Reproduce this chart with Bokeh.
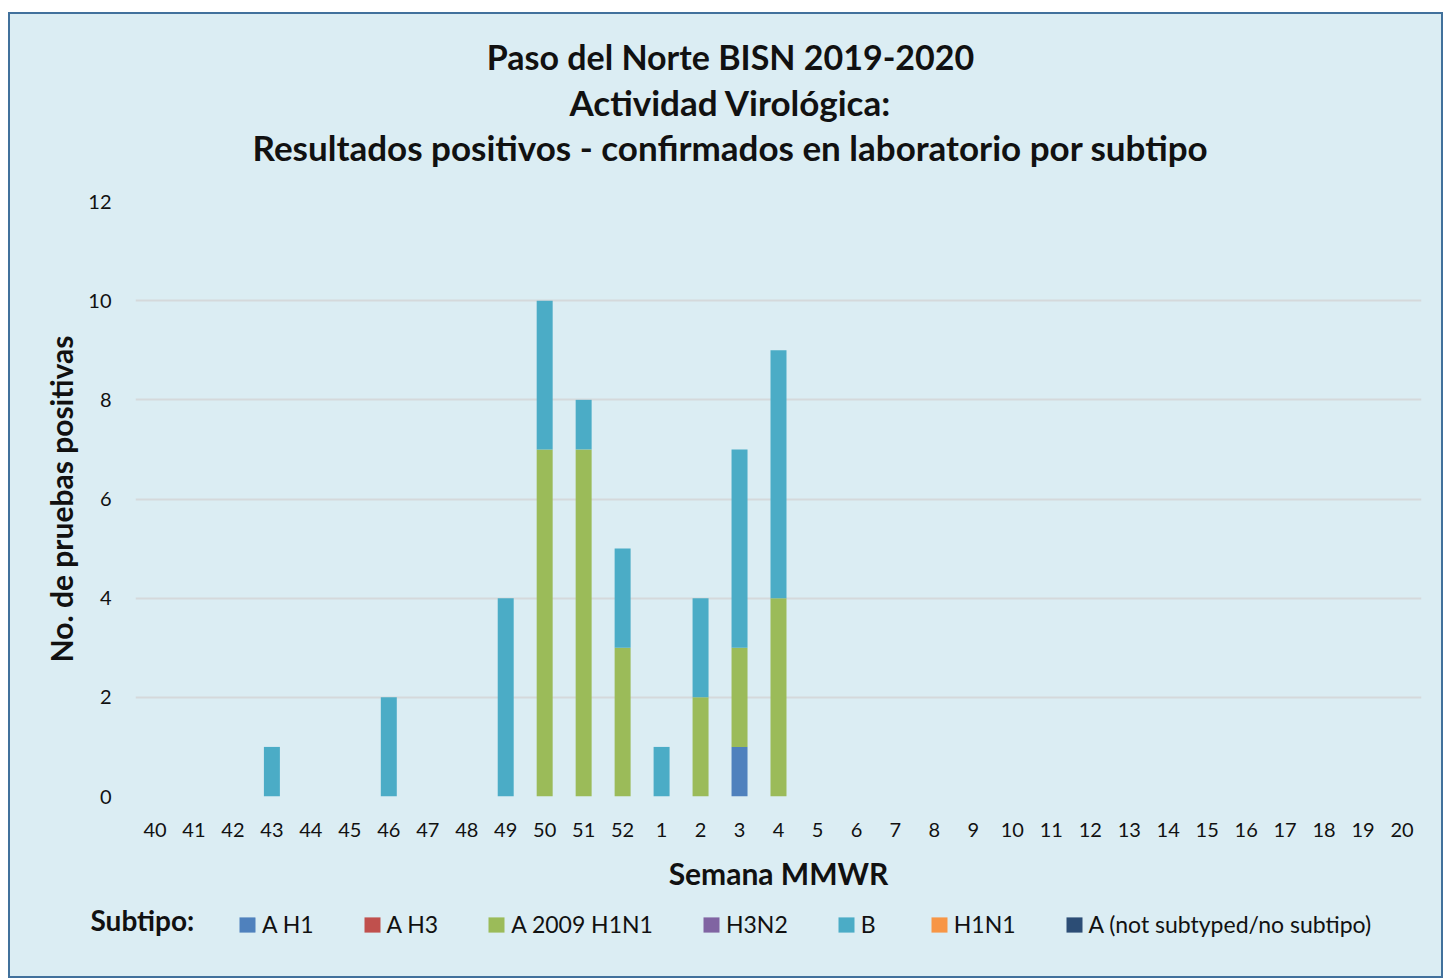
from bokeh.plotting import figure
from bokeh.layouts import column
from bokeh.models import Label, Legend, LegendItem, FactorRange, Range1d, SingleIntervalTicker, ColumnDataSource
from bokeh.embed import file_html
from bokeh.resources import INLINE

weeks = [str(w) for w in range(40, 53)] + [str(w) for w in range(1, 21)]
subtypes = ["A H1", "A H3", "A 2009 H1N1", "H3N2", "B", "H1N1", "A (not subtyped/no subtipo)"]
colors = ["#4F81BD", "#C0504D", "#9BBB59", "#8064A2", "#4BACC6", "#F79646", "#2C4D75"]

a_h1 =    [0,0,0,0,0,0,0,0,0,0,0,0,0, 0,0,1,0] + [0]*16
a_h3 =    [0]*33
a_2009 =  [0,0,0,0,0,0,0,0,0,0,7,7,3, 0,2,2,4] + [0]*16
h3n2 =    [0]*33
b =       [0,0,0,1,0,0,2,0,0,4,3,1,2, 1,2,4,5] + [0]*16
h1n1 =    [0]*33
a_ns =    [0]*33

titles = ["Paso del Norte BISN 2019-2020", "Actividad Virológica:",
          "Resultados positivos - confirmados en laboratorio por subtipo"]

series = [a_h1, a_h3, a_2009, h3n2, b, h1n1, a_ns]
data = {"week": weeks}
for name, vals in zip(subtypes, series):
    data[name] = vals

FONT = "Lato"
BG = "#DBEDF3"
TXT = "#111111"
W = 1431
FRAME_L, FRAME_R = 135, 1421   # page-pixel span of the chart frame (shared by all strips)

def blank(top, bottom):
    f = figure(width=W, height=bottom - top, x_range=Range1d(FRAME_L, FRAME_R),
               y_range=Range1d(bottom, top),
               output_backend="svg", toolbar_location=None,
               min_border_left=0, min_border_right=0, min_border_top=0, min_border_bottom=0)
    f.axis.visible = False
    f.grid.visible = False
    f.background_fill_color = BG
    f.border_fill_color = BG
    f.outline_line_color = None
    return f

# ---- title strip (page y 14..180)
p0 = blank(14, 180)
for t, yy, fs in zip(titles, [56, 101, 146], ["34px", "35px", "35px"]):
    p0.add_layout(Label(x=730, y=yy, text=t, text_align="center", text_baseline="middle",
                        text_font=FONT, text_font_style="bold", text_font_size=fs,
                        text_color=TXT))

# ---- main chart
p = figure(x_range=FactorRange(*weeks, range_padding=0), y_range=Range1d(0, 12),
           width=W, height=715, output_backend="svg", toolbar_location=None,
           min_border_left=125, min_border_right=20, min_border_top=21, min_border_bottom=99)
p.background_fill_color = BG
p.border_fill_color = BG
p.outline_line_color = None

p.vbar_stack(subtypes, x="week", width=0.41, color=colors, source=data, line_color=None)

p.yaxis.ticker = SingleIntervalTicker(interval=2)
p.ygrid.grid_line_color = "#D5D9DB"
p.ygrid.grid_line_width = 2
p.xgrid.grid_line_color = None
for ax in (p.xaxis[0], p.yaxis[0]):
    ax.axis_line_color = None
    ax.major_tick_line_color = None
    ax.minor_tick_line_color = None
    ax.major_label_text_font = FONT
    ax.major_label_text_font_size = "20px"
    ax.major_label_text_color = TXT
    ax.axis_label_text_font = FONT
    ax.axis_label_text_font_style = "bold"
    ax.axis_label_text_font_size = "30px"
    ax.axis_label_text_color = TXT
p.xaxis.axis_label = "Semana MMWR"
p.yaxis.axis_label = "No. de pruebas positivas"
p.xaxis.major_label_standoff = 20
p.yaxis.major_label_standoff = 18
p.xaxis.axis_label_standoff = 15
p.yaxis.axis_label_standoff = 6

# ---- legend strip (page y 895..976)
p2 = blank(895, 976)
leg_renderers = []
for c in colors:
    leg_renderers.append(p2.vbar(x="x", top="top", width=0, color=c, line_color=None,
                                 source=ColumnDataSource(dict(x=[FRAME_L], top=[976]))))
p2.add_layout(Label(x=90, y=919, text="Subtipo:", text_align="left", text_baseline="middle",
                    text_font=FONT, text_font_style="bold", text_font_size="28px", text_color=TXT),
              "left")
legend = Legend(items=[LegendItem(label=s, renderers=[r]) for s, r in zip(subtypes, leg_renderers)],
                orientation="horizontal", location=(102, 38), spacing=48,
                glyph_width=20, glyph_height=19, label_standoff=5,
                label_text_font=FONT, label_text_font_size="23px", label_text_color=TXT,
                background_fill_alpha=0, border_line_color=None, padding=0, margin=0)
p2.add_layout(legend, "center")

layout = column(p0, p, p2, spacing=0,
                styles={"border": "2px solid #41719C", "margin-left": "8px", "margin-top": "12px",
                        "background-color": BG})

open("out.html", "w").write(file_html(layout, INLINE))
